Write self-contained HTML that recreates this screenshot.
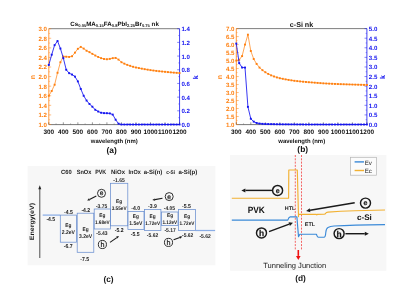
<!DOCTYPE html>
<html><head><meta charset="utf-8"><title>figure</title>
<style>html,body{margin:0;padding:0;background:#fff;}body{width:407px;height:288px;overflow:hidden;font-family:"Liberation Sans",sans-serif;}svg{display:block;will-change:transform;text-rendering:geometricPrecision;}</style>
</head><body>
<svg width="407" height="288" viewBox="0 0 407 288" font-family="'Liberation Sans', sans-serif">
<rect width="407" height="288" fill="#fff"/>
<line x1="48.8" y1="28.7" x2="179.55" y2="28.7" stroke="#707070" stroke-width="0.9"/>
<line x1="48.8" y1="124.6" x2="179.55" y2="124.6" stroke="#7a7a7a" stroke-width="1.0"/>
<line x1="48.8" y1="28.7" x2="48.8" y2="124.5" stroke="#ff7f0e" stroke-width="0.8"/>
<line x1="179.55" y1="28.7" x2="179.55" y2="124.5" stroke="#1414f0" stroke-width="0.8"/>
<line x1="48.80" y1="124.5" x2="48.80" y2="122.3" stroke="#333" stroke-width="0.5"/>
<text x="48.80" y="133.95" font-size="6.4" font-weight="bold" text-anchor="middle" fill="#111">300</text>
<line x1="63.33" y1="124.5" x2="63.33" y2="122.3" stroke="#333" stroke-width="0.5"/>
<text x="63.33" y="133.95" font-size="6.4" font-weight="bold" text-anchor="middle" fill="#111">400</text>
<line x1="77.86" y1="124.5" x2="77.86" y2="122.3" stroke="#333" stroke-width="0.5"/>
<text x="77.86" y="133.95" font-size="6.4" font-weight="bold" text-anchor="middle" fill="#111">500</text>
<line x1="92.38" y1="124.5" x2="92.38" y2="122.3" stroke="#333" stroke-width="0.5"/>
<text x="92.38" y="133.95" font-size="6.4" font-weight="bold" text-anchor="middle" fill="#111">600</text>
<line x1="106.91" y1="124.5" x2="106.91" y2="122.3" stroke="#333" stroke-width="0.5"/>
<text x="106.91" y="133.95" font-size="6.4" font-weight="bold" text-anchor="middle" fill="#111">700</text>
<line x1="121.44" y1="124.5" x2="121.44" y2="122.3" stroke="#333" stroke-width="0.5"/>
<text x="121.44" y="133.95" font-size="6.4" font-weight="bold" text-anchor="middle" fill="#111">800</text>
<line x1="135.97" y1="124.5" x2="135.97" y2="122.3" stroke="#333" stroke-width="0.5"/>
<text x="135.97" y="133.95" font-size="6.4" font-weight="bold" text-anchor="middle" fill="#111">900</text>
<line x1="150.49" y1="124.5" x2="150.49" y2="122.3" stroke="#333" stroke-width="0.5"/>
<text x="150.49" y="133.95" font-size="6.4" font-weight="bold" text-anchor="middle" fill="#111">1000</text>
<line x1="165.02" y1="124.5" x2="165.02" y2="122.3" stroke="#333" stroke-width="0.5"/>
<text x="165.02" y="133.95" font-size="6.4" font-weight="bold" text-anchor="middle" fill="#111">1100</text>
<line x1="179.55" y1="124.5" x2="179.55" y2="122.3" stroke="#333" stroke-width="0.5"/>
<text x="179.55" y="133.95" font-size="6.4" font-weight="bold" text-anchor="middle" fill="#111">1200</text>
<line x1="56.06" y1="124.5" x2="56.06" y2="123.3" stroke="#555" stroke-width="0.4"/>
<line x1="70.59" y1="124.5" x2="70.59" y2="123.3" stroke="#555" stroke-width="0.4"/>
<line x1="85.12" y1="124.5" x2="85.12" y2="123.3" stroke="#555" stroke-width="0.4"/>
<line x1="99.65" y1="124.5" x2="99.65" y2="123.3" stroke="#555" stroke-width="0.4"/>
<line x1="114.17" y1="124.5" x2="114.17" y2="123.3" stroke="#555" stroke-width="0.4"/>
<line x1="128.70" y1="124.5" x2="128.70" y2="123.3" stroke="#555" stroke-width="0.4"/>
<line x1="143.23" y1="124.5" x2="143.23" y2="123.3" stroke="#555" stroke-width="0.4"/>
<line x1="157.76" y1="124.5" x2="157.76" y2="123.3" stroke="#555" stroke-width="0.4"/>
<line x1="172.29" y1="124.5" x2="172.29" y2="123.3" stroke="#555" stroke-width="0.4"/>
<line x1="48.8" y1="124.50" x2="51.199999999999996" y2="124.50" stroke="#ff7f0e" stroke-width="0.5"/>
<text x="47.00" y="126.95" font-size="6.15" font-weight="bold" text-anchor="end" fill="#ff7f0e">1.0</text>
<line x1="48.8" y1="114.92" x2="51.199999999999996" y2="114.92" stroke="#ff7f0e" stroke-width="0.5"/>
<text x="47.00" y="117.37" font-size="6.15" font-weight="bold" text-anchor="end" fill="#ff7f0e">1.2</text>
<line x1="48.8" y1="105.34" x2="51.199999999999996" y2="105.34" stroke="#ff7f0e" stroke-width="0.5"/>
<text x="47.00" y="107.79" font-size="6.15" font-weight="bold" text-anchor="end" fill="#ff7f0e">1.4</text>
<line x1="48.8" y1="95.76" x2="51.199999999999996" y2="95.76" stroke="#ff7f0e" stroke-width="0.5"/>
<text x="47.00" y="98.21" font-size="6.15" font-weight="bold" text-anchor="end" fill="#ff7f0e">1.6</text>
<line x1="48.8" y1="86.18" x2="51.199999999999996" y2="86.18" stroke="#ff7f0e" stroke-width="0.5"/>
<text x="47.00" y="88.63" font-size="6.15" font-weight="bold" text-anchor="end" fill="#ff7f0e">1.8</text>
<line x1="48.8" y1="76.60" x2="51.199999999999996" y2="76.60" stroke="#ff7f0e" stroke-width="0.5"/>
<text x="47.00" y="79.05" font-size="6.15" font-weight="bold" text-anchor="end" fill="#ff7f0e">2.0</text>
<line x1="48.8" y1="67.02" x2="51.199999999999996" y2="67.02" stroke="#ff7f0e" stroke-width="0.5"/>
<text x="47.00" y="69.47" font-size="6.15" font-weight="bold" text-anchor="end" fill="#ff7f0e">2.2</text>
<line x1="48.8" y1="57.44" x2="51.199999999999996" y2="57.44" stroke="#ff7f0e" stroke-width="0.5"/>
<text x="47.00" y="59.89" font-size="6.15" font-weight="bold" text-anchor="end" fill="#ff7f0e">2.4</text>
<line x1="48.8" y1="47.86" x2="51.199999999999996" y2="47.86" stroke="#ff7f0e" stroke-width="0.5"/>
<text x="47.00" y="50.31" font-size="6.15" font-weight="bold" text-anchor="end" fill="#ff7f0e">2.6</text>
<line x1="48.8" y1="38.28" x2="51.199999999999996" y2="38.28" stroke="#ff7f0e" stroke-width="0.5"/>
<text x="47.00" y="40.73" font-size="6.15" font-weight="bold" text-anchor="end" fill="#ff7f0e">2.8</text>
<line x1="48.8" y1="28.70" x2="51.199999999999996" y2="28.70" stroke="#ff7f0e" stroke-width="0.5"/>
<text x="47.00" y="31.15" font-size="6.15" font-weight="bold" text-anchor="end" fill="#ff7f0e">3.0</text>
<line x1="179.55" y1="124.50" x2="177.15" y2="124.50" stroke="#1414f0" stroke-width="0.5"/>
<text x="181.45" y="126.95" font-size="6.15" font-weight="bold" text-anchor="start" fill="#1414f0">0.0</text>
<line x1="179.55" y1="110.81" x2="177.15" y2="110.81" stroke="#1414f0" stroke-width="0.5"/>
<text x="181.45" y="113.26" font-size="6.15" font-weight="bold" text-anchor="start" fill="#1414f0">0.2</text>
<line x1="179.55" y1="97.13" x2="177.15" y2="97.13" stroke="#1414f0" stroke-width="0.5"/>
<text x="181.45" y="99.58" font-size="6.15" font-weight="bold" text-anchor="start" fill="#1414f0">0.4</text>
<line x1="179.55" y1="83.44" x2="177.15" y2="83.44" stroke="#1414f0" stroke-width="0.5"/>
<text x="181.45" y="85.89" font-size="6.15" font-weight="bold" text-anchor="start" fill="#1414f0">0.6</text>
<line x1="179.55" y1="69.76" x2="177.15" y2="69.76" stroke="#1414f0" stroke-width="0.5"/>
<text x="181.45" y="72.21" font-size="6.15" font-weight="bold" text-anchor="start" fill="#1414f0">0.8</text>
<line x1="179.55" y1="56.07" x2="177.15" y2="56.07" stroke="#1414f0" stroke-width="0.5"/>
<text x="181.45" y="58.52" font-size="6.15" font-weight="bold" text-anchor="start" fill="#1414f0">1.0</text>
<line x1="179.55" y1="42.39" x2="177.15" y2="42.39" stroke="#1414f0" stroke-width="0.5"/>
<text x="181.45" y="44.84" font-size="6.15" font-weight="bold" text-anchor="start" fill="#1414f0">1.2</text>
<line x1="179.55" y1="28.70" x2="177.15" y2="28.70" stroke="#1414f0" stroke-width="0.5"/>
<text x="181.45" y="31.15" font-size="6.15" font-weight="bold" text-anchor="start" fill="#1414f0">1.4</text>
<line x1="48.8" y1="119.71" x2="50.099999999999994" y2="119.71" stroke="#ff7f0e" stroke-width="0.4"/>
<line x1="48.8" y1="110.13" x2="50.099999999999994" y2="110.13" stroke="#ff7f0e" stroke-width="0.4"/>
<line x1="48.8" y1="100.55" x2="50.099999999999994" y2="100.55" stroke="#ff7f0e" stroke-width="0.4"/>
<line x1="48.8" y1="90.97" x2="50.099999999999994" y2="90.97" stroke="#ff7f0e" stroke-width="0.4"/>
<line x1="48.8" y1="81.39" x2="50.099999999999994" y2="81.39" stroke="#ff7f0e" stroke-width="0.4"/>
<line x1="48.8" y1="71.81" x2="50.099999999999994" y2="71.81" stroke="#ff7f0e" stroke-width="0.4"/>
<line x1="48.8" y1="62.23" x2="50.099999999999994" y2="62.23" stroke="#ff7f0e" stroke-width="0.4"/>
<line x1="48.8" y1="52.65" x2="50.099999999999994" y2="52.65" stroke="#ff7f0e" stroke-width="0.4"/>
<line x1="48.8" y1="43.07" x2="50.099999999999994" y2="43.07" stroke="#ff7f0e" stroke-width="0.4"/>
<line x1="48.8" y1="33.49" x2="50.099999999999994" y2="33.49" stroke="#ff7f0e" stroke-width="0.4"/>
<line x1="179.55" y1="117.66" x2="178.25" y2="117.66" stroke="#1414f0" stroke-width="0.4"/>
<line x1="179.55" y1="103.97" x2="178.25" y2="103.97" stroke="#1414f0" stroke-width="0.4"/>
<line x1="179.55" y1="90.29" x2="178.25" y2="90.29" stroke="#1414f0" stroke-width="0.4"/>
<line x1="179.55" y1="76.60" x2="178.25" y2="76.60" stroke="#1414f0" stroke-width="0.4"/>
<line x1="179.55" y1="62.91" x2="178.25" y2="62.91" stroke="#1414f0" stroke-width="0.4"/>
<line x1="179.55" y1="49.23" x2="178.25" y2="49.23" stroke="#1414f0" stroke-width="0.4"/>
<line x1="179.55" y1="35.54" x2="178.25" y2="35.54" stroke="#1414f0" stroke-width="0.4"/>
<polyline points="48.80,95.76 51.71,90.97 54.61,84.74 57.52,72.77 60.42,62.23 63.33,56.48 66.23,56.72 69.14,56.96 72.04,56.24 74.95,52.65 77.86,48.82 80.76,46.90 83.67,48.58 86.57,50.73 89.48,52.17 92.38,53.85 95.29,55.52 98.19,56.96 101.10,58.16 104.01,58.97 106.91,59.26 109.82,58.88 112.72,58.16 115.63,57.92 118.53,59.60 121.44,62.23 124.34,63.67 127.25,64.86 130.16,65.82 133.06,66.78 135.97,67.50 138.87,68.07 141.78,68.65 144.68,69.18 147.59,69.65 150.49,70.13 153.40,70.52 156.31,70.90 159.21,71.24 162.12,71.52 165.02,71.81 167.93,72.10 170.83,72.38 173.74,72.63 176.64,72.84 179.55,73.06" fill="none" stroke="#ff7f0e" stroke-width="0.7" stroke-linejoin="round"/>
<rect x="47.85" y="94.81" width="1.9" height="1.9" fill="#ff7f0e"/>
<rect x="50.76" y="90.02" width="1.9" height="1.9" fill="#ff7f0e"/>
<rect x="53.66" y="83.79" width="1.9" height="1.9" fill="#ff7f0e"/>
<rect x="56.57" y="71.82" width="1.9" height="1.9" fill="#ff7f0e"/>
<rect x="59.47" y="61.28" width="1.9" height="1.9" fill="#ff7f0e"/>
<rect x="62.38" y="55.53" width="1.9" height="1.9" fill="#ff7f0e"/>
<rect x="65.28" y="55.77" width="1.9" height="1.9" fill="#ff7f0e"/>
<rect x="68.19" y="56.01" width="1.9" height="1.9" fill="#ff7f0e"/>
<rect x="71.09" y="55.29" width="1.9" height="1.9" fill="#ff7f0e"/>
<rect x="74.00" y="51.70" width="1.9" height="1.9" fill="#ff7f0e"/>
<rect x="76.91" y="47.87" width="1.9" height="1.9" fill="#ff7f0e"/>
<rect x="79.81" y="45.95" width="1.9" height="1.9" fill="#ff7f0e"/>
<rect x="82.72" y="47.63" width="1.9" height="1.9" fill="#ff7f0e"/>
<rect x="85.62" y="49.78" width="1.9" height="1.9" fill="#ff7f0e"/>
<rect x="88.53" y="51.22" width="1.9" height="1.9" fill="#ff7f0e"/>
<rect x="91.43" y="52.90" width="1.9" height="1.9" fill="#ff7f0e"/>
<rect x="94.34" y="54.57" width="1.9" height="1.9" fill="#ff7f0e"/>
<rect x="97.24" y="56.01" width="1.9" height="1.9" fill="#ff7f0e"/>
<rect x="100.15" y="57.21" width="1.9" height="1.9" fill="#ff7f0e"/>
<rect x="103.06" y="58.02" width="1.9" height="1.9" fill="#ff7f0e"/>
<rect x="105.96" y="58.31" width="1.9" height="1.9" fill="#ff7f0e"/>
<rect x="108.87" y="57.93" width="1.9" height="1.9" fill="#ff7f0e"/>
<rect x="111.77" y="57.21" width="1.9" height="1.9" fill="#ff7f0e"/>
<rect x="114.68" y="56.97" width="1.9" height="1.9" fill="#ff7f0e"/>
<rect x="117.58" y="58.65" width="1.9" height="1.9" fill="#ff7f0e"/>
<rect x="120.49" y="61.28" width="1.9" height="1.9" fill="#ff7f0e"/>
<rect x="123.39" y="62.72" width="1.9" height="1.9" fill="#ff7f0e"/>
<rect x="126.30" y="63.91" width="1.9" height="1.9" fill="#ff7f0e"/>
<rect x="129.21" y="64.87" width="1.9" height="1.9" fill="#ff7f0e"/>
<rect x="132.11" y="65.83" width="1.9" height="1.9" fill="#ff7f0e"/>
<rect x="135.02" y="66.55" width="1.9" height="1.9" fill="#ff7f0e"/>
<rect x="137.92" y="67.12" width="1.9" height="1.9" fill="#ff7f0e"/>
<rect x="140.83" y="67.70" width="1.9" height="1.9" fill="#ff7f0e"/>
<rect x="143.73" y="68.23" width="1.9" height="1.9" fill="#ff7f0e"/>
<rect x="146.64" y="68.70" width="1.9" height="1.9" fill="#ff7f0e"/>
<rect x="149.54" y="69.18" width="1.9" height="1.9" fill="#ff7f0e"/>
<rect x="152.45" y="69.57" width="1.9" height="1.9" fill="#ff7f0e"/>
<rect x="155.36" y="69.95" width="1.9" height="1.9" fill="#ff7f0e"/>
<rect x="158.26" y="70.29" width="1.9" height="1.9" fill="#ff7f0e"/>
<rect x="161.17" y="70.57" width="1.9" height="1.9" fill="#ff7f0e"/>
<rect x="164.07" y="70.86" width="1.9" height="1.9" fill="#ff7f0e"/>
<rect x="166.98" y="71.15" width="1.9" height="1.9" fill="#ff7f0e"/>
<rect x="169.88" y="71.43" width="1.9" height="1.9" fill="#ff7f0e"/>
<rect x="172.79" y="71.68" width="1.9" height="1.9" fill="#ff7f0e"/>
<rect x="175.69" y="71.89" width="1.9" height="1.9" fill="#ff7f0e"/>
<rect x="178.60" y="72.11" width="1.9" height="1.9" fill="#ff7f0e"/>
<polyline points="48.80,64.97 51.71,54.70 54.61,45.12 57.52,41.02 60.42,48.54 63.33,58.12 66.23,69.76 69.14,73.18 72.04,74.55 74.95,76.60 77.86,81.39 80.76,88.92 83.67,95.76 86.57,100.55 89.48,103.97 92.38,106.71 95.29,109.79 98.19,111.50 101.10,112.73 104.01,113.14 106.91,113.21 109.82,113.41 112.72,114.58 115.63,119.71 118.53,123.68 121.44,124.50 124.34,124.50 127.25,124.50 130.16,124.50 133.06,124.50 135.97,124.50 138.87,124.50 141.78,124.50 144.68,124.50 147.59,124.50 150.49,124.50 153.40,124.50 156.31,124.50 159.21,124.50 162.12,124.50 165.02,124.50 167.93,124.50 170.83,124.50 173.74,124.50 176.64,124.50 179.55,124.50" fill="none" stroke="#1414f0" stroke-width="0.85" stroke-linejoin="round"/>
<rect x="47.85" y="64.02" width="1.9" height="1.9" fill="#1414f0"/>
<rect x="50.76" y="53.75" width="1.9" height="1.9" fill="#1414f0"/>
<rect x="53.66" y="44.17" width="1.9" height="1.9" fill="#1414f0"/>
<rect x="56.57" y="40.07" width="1.9" height="1.9" fill="#1414f0"/>
<rect x="59.47" y="47.59" width="1.9" height="1.9" fill="#1414f0"/>
<rect x="62.38" y="57.17" width="1.9" height="1.9" fill="#1414f0"/>
<rect x="65.28" y="68.81" width="1.9" height="1.9" fill="#1414f0"/>
<rect x="68.19" y="72.23" width="1.9" height="1.9" fill="#1414f0"/>
<rect x="71.09" y="73.60" width="1.9" height="1.9" fill="#1414f0"/>
<rect x="74.00" y="75.65" width="1.9" height="1.9" fill="#1414f0"/>
<rect x="76.91" y="80.44" width="1.9" height="1.9" fill="#1414f0"/>
<rect x="79.81" y="87.97" width="1.9" height="1.9" fill="#1414f0"/>
<rect x="82.72" y="94.81" width="1.9" height="1.9" fill="#1414f0"/>
<rect x="85.62" y="99.60" width="1.9" height="1.9" fill="#1414f0"/>
<rect x="88.53" y="103.02" width="1.9" height="1.9" fill="#1414f0"/>
<rect x="91.43" y="105.76" width="1.9" height="1.9" fill="#1414f0"/>
<rect x="94.34" y="108.84" width="1.9" height="1.9" fill="#1414f0"/>
<rect x="97.24" y="110.55" width="1.9" height="1.9" fill="#1414f0"/>
<rect x="100.15" y="111.78" width="1.9" height="1.9" fill="#1414f0"/>
<rect x="103.06" y="112.19" width="1.9" height="1.9" fill="#1414f0"/>
<rect x="105.96" y="112.26" width="1.9" height="1.9" fill="#1414f0"/>
<rect x="108.87" y="112.46" width="1.9" height="1.9" fill="#1414f0"/>
<rect x="111.77" y="113.63" width="1.9" height="1.9" fill="#1414f0"/>
<rect x="114.68" y="118.76" width="1.9" height="1.9" fill="#1414f0"/>
<rect x="117.58" y="122.73" width="1.9" height="1.9" fill="#1414f0"/>
<rect x="120.49" y="123.55" width="1.9" height="1.9" fill="#1414f0"/>
<rect x="123.39" y="123.55" width="1.9" height="1.9" fill="#1414f0"/>
<rect x="126.30" y="123.55" width="1.9" height="1.9" fill="#1414f0"/>
<rect x="129.21" y="123.55" width="1.9" height="1.9" fill="#1414f0"/>
<rect x="132.11" y="123.55" width="1.9" height="1.9" fill="#1414f0"/>
<rect x="135.02" y="123.55" width="1.9" height="1.9" fill="#1414f0"/>
<rect x="137.92" y="123.55" width="1.9" height="1.9" fill="#1414f0"/>
<rect x="140.83" y="123.55" width="1.9" height="1.9" fill="#1414f0"/>
<rect x="143.73" y="123.55" width="1.9" height="1.9" fill="#1414f0"/>
<rect x="146.64" y="123.55" width="1.9" height="1.9" fill="#1414f0"/>
<rect x="149.54" y="123.55" width="1.9" height="1.9" fill="#1414f0"/>
<rect x="152.45" y="123.55" width="1.9" height="1.9" fill="#1414f0"/>
<rect x="155.36" y="123.55" width="1.9" height="1.9" fill="#1414f0"/>
<rect x="158.26" y="123.55" width="1.9" height="1.9" fill="#1414f0"/>
<rect x="161.17" y="123.55" width="1.9" height="1.9" fill="#1414f0"/>
<rect x="164.07" y="123.55" width="1.9" height="1.9" fill="#1414f0"/>
<rect x="166.98" y="123.55" width="1.9" height="1.9" fill="#1414f0"/>
<rect x="169.88" y="123.55" width="1.9" height="1.9" fill="#1414f0"/>
<rect x="172.79" y="123.55" width="1.9" height="1.9" fill="#1414f0"/>
<rect x="175.69" y="123.55" width="1.9" height="1.9" fill="#1414f0"/>
<rect x="178.60" y="123.55" width="1.9" height="1.9" fill="#1414f0"/>
<text x="114.28" y="142.80" font-size="5.95" font-weight="bold" text-anchor="middle" fill="#111">wavelength (nm)</text>
<text x="114.6" y="25.9" font-size="6.2" font-weight="bold" text-anchor="middle" fill="#111">Cs<tspan font-size="4.1" dy="1.5">0.05</tspan><tspan dy="-1.5">MA</tspan><tspan font-size="4.1" dy="1.5">0.15</tspan><tspan dy="-1.5">FA</tspan><tspan font-size="4.1" dy="1.5">0.8</tspan><tspan dy="-1.5">PbI</tspan><tspan font-size="4.1" dy="1.5">2.25</tspan><tspan dy="-1.5">Br</tspan><tspan font-size="4.1" dy="1.5">0.75</tspan><tspan dy="-1.5"> nk</tspan></text>
<text x="111.7" y="153.4" font-size="8.4" font-weight="bold" text-anchor="middle" fill="#111">(a)</text>
<text transform="translate(34.60,77.05) rotate(-90)" font-size="7.0" font-weight="bold" text-anchor="middle" fill="#ff7f0e">n</text>
<text transform="translate(197.85,77.20) rotate(-90)" font-size="7.0" font-weight="bold" text-anchor="middle" fill="#1414f0">k</text>
<line x1="236.3" y1="28.6" x2="366.9" y2="28.6" stroke="#707070" stroke-width="0.9"/>
<line x1="236.3" y1="124.6" x2="366.9" y2="124.6" stroke="#7a7a7a" stroke-width="1.0"/>
<line x1="236.3" y1="28.6" x2="236.3" y2="124.5" stroke="#ff7f0e" stroke-width="0.8"/>
<line x1="366.9" y1="28.6" x2="366.9" y2="124.5" stroke="#1414f0" stroke-width="0.8"/>
<line x1="236.30" y1="124.5" x2="236.30" y2="122.3" stroke="#333" stroke-width="0.5"/>
<text x="236.30" y="133.95" font-size="6.4" font-weight="bold" text-anchor="middle" fill="#111">300</text>
<line x1="250.81" y1="124.5" x2="250.81" y2="122.3" stroke="#333" stroke-width="0.5"/>
<text x="250.81" y="133.95" font-size="6.4" font-weight="bold" text-anchor="middle" fill="#111">400</text>
<line x1="265.32" y1="124.5" x2="265.32" y2="122.3" stroke="#333" stroke-width="0.5"/>
<text x="265.32" y="133.95" font-size="6.4" font-weight="bold" text-anchor="middle" fill="#111">500</text>
<line x1="279.83" y1="124.5" x2="279.83" y2="122.3" stroke="#333" stroke-width="0.5"/>
<text x="279.83" y="133.95" font-size="6.4" font-weight="bold" text-anchor="middle" fill="#111">600</text>
<line x1="294.34" y1="124.5" x2="294.34" y2="122.3" stroke="#333" stroke-width="0.5"/>
<text x="294.34" y="133.95" font-size="6.4" font-weight="bold" text-anchor="middle" fill="#111">700</text>
<line x1="308.86" y1="124.5" x2="308.86" y2="122.3" stroke="#333" stroke-width="0.5"/>
<text x="308.86" y="133.95" font-size="6.4" font-weight="bold" text-anchor="middle" fill="#111">800</text>
<line x1="323.37" y1="124.5" x2="323.37" y2="122.3" stroke="#333" stroke-width="0.5"/>
<text x="323.37" y="133.95" font-size="6.4" font-weight="bold" text-anchor="middle" fill="#111">900</text>
<line x1="337.88" y1="124.5" x2="337.88" y2="122.3" stroke="#333" stroke-width="0.5"/>
<text x="337.88" y="133.95" font-size="6.4" font-weight="bold" text-anchor="middle" fill="#111">1000</text>
<line x1="352.39" y1="124.5" x2="352.39" y2="122.3" stroke="#333" stroke-width="0.5"/>
<text x="352.39" y="133.95" font-size="6.4" font-weight="bold" text-anchor="middle" fill="#111">1100</text>
<line x1="366.90" y1="124.5" x2="366.90" y2="122.3" stroke="#333" stroke-width="0.5"/>
<text x="366.90" y="133.95" font-size="6.4" font-weight="bold" text-anchor="middle" fill="#111">1200</text>
<line x1="243.56" y1="124.5" x2="243.56" y2="123.3" stroke="#555" stroke-width="0.4"/>
<line x1="258.07" y1="124.5" x2="258.07" y2="123.3" stroke="#555" stroke-width="0.4"/>
<line x1="272.58" y1="124.5" x2="272.58" y2="123.3" stroke="#555" stroke-width="0.4"/>
<line x1="287.09" y1="124.5" x2="287.09" y2="123.3" stroke="#555" stroke-width="0.4"/>
<line x1="301.60" y1="124.5" x2="301.60" y2="123.3" stroke="#555" stroke-width="0.4"/>
<line x1="316.11" y1="124.5" x2="316.11" y2="123.3" stroke="#555" stroke-width="0.4"/>
<line x1="330.62" y1="124.5" x2="330.62" y2="123.3" stroke="#555" stroke-width="0.4"/>
<line x1="345.13" y1="124.5" x2="345.13" y2="123.3" stroke="#555" stroke-width="0.4"/>
<line x1="359.64" y1="124.5" x2="359.64" y2="123.3" stroke="#555" stroke-width="0.4"/>
<line x1="236.3" y1="124.50" x2="238.70000000000002" y2="124.50" stroke="#ff7f0e" stroke-width="0.5"/>
<text x="234.50" y="126.95" font-size="6.15" font-weight="bold" text-anchor="end" fill="#ff7f0e">1.0</text>
<line x1="236.3" y1="116.51" x2="238.70000000000002" y2="116.51" stroke="#ff7f0e" stroke-width="0.5"/>
<text x="234.50" y="118.96" font-size="6.15" font-weight="bold" text-anchor="end" fill="#ff7f0e">1.5</text>
<line x1="236.3" y1="108.52" x2="238.70000000000002" y2="108.52" stroke="#ff7f0e" stroke-width="0.5"/>
<text x="234.50" y="110.97" font-size="6.15" font-weight="bold" text-anchor="end" fill="#ff7f0e">2.0</text>
<line x1="236.3" y1="100.53" x2="238.70000000000002" y2="100.53" stroke="#ff7f0e" stroke-width="0.5"/>
<text x="234.50" y="102.98" font-size="6.15" font-weight="bold" text-anchor="end" fill="#ff7f0e">2.5</text>
<line x1="236.3" y1="92.53" x2="238.70000000000002" y2="92.53" stroke="#ff7f0e" stroke-width="0.5"/>
<text x="234.50" y="94.98" font-size="6.15" font-weight="bold" text-anchor="end" fill="#ff7f0e">3.0</text>
<line x1="236.3" y1="84.54" x2="238.70000000000002" y2="84.54" stroke="#ff7f0e" stroke-width="0.5"/>
<text x="234.50" y="86.99" font-size="6.15" font-weight="bold" text-anchor="end" fill="#ff7f0e">3.5</text>
<line x1="236.3" y1="76.55" x2="238.70000000000002" y2="76.55" stroke="#ff7f0e" stroke-width="0.5"/>
<text x="234.50" y="79.00" font-size="6.15" font-weight="bold" text-anchor="end" fill="#ff7f0e">4.0</text>
<line x1="236.3" y1="68.56" x2="238.70000000000002" y2="68.56" stroke="#ff7f0e" stroke-width="0.5"/>
<text x="234.50" y="71.01" font-size="6.15" font-weight="bold" text-anchor="end" fill="#ff7f0e">4.5</text>
<line x1="236.3" y1="60.57" x2="238.70000000000002" y2="60.57" stroke="#ff7f0e" stroke-width="0.5"/>
<text x="234.50" y="63.02" font-size="6.15" font-weight="bold" text-anchor="end" fill="#ff7f0e">5.0</text>
<line x1="236.3" y1="52.57" x2="238.70000000000002" y2="52.57" stroke="#ff7f0e" stroke-width="0.5"/>
<text x="234.50" y="55.02" font-size="6.15" font-weight="bold" text-anchor="end" fill="#ff7f0e">5.5</text>
<line x1="236.3" y1="44.58" x2="238.70000000000002" y2="44.58" stroke="#ff7f0e" stroke-width="0.5"/>
<text x="234.50" y="47.03" font-size="6.15" font-weight="bold" text-anchor="end" fill="#ff7f0e">6.0</text>
<line x1="236.3" y1="36.59" x2="238.70000000000002" y2="36.59" stroke="#ff7f0e" stroke-width="0.5"/>
<text x="234.50" y="39.04" font-size="6.15" font-weight="bold" text-anchor="end" fill="#ff7f0e">6.5</text>
<line x1="236.3" y1="28.60" x2="238.70000000000002" y2="28.60" stroke="#ff7f0e" stroke-width="0.5"/>
<text x="234.50" y="31.05" font-size="6.15" font-weight="bold" text-anchor="end" fill="#ff7f0e">7.0</text>
<line x1="366.9" y1="124.50" x2="364.5" y2="124.50" stroke="#1414f0" stroke-width="0.5"/>
<text x="368.80" y="126.95" font-size="6.15" font-weight="bold" text-anchor="start" fill="#1414f0">0.0</text>
<line x1="366.9" y1="114.91" x2="364.5" y2="114.91" stroke="#1414f0" stroke-width="0.5"/>
<text x="368.80" y="117.36" font-size="6.15" font-weight="bold" text-anchor="start" fill="#1414f0">0.5</text>
<line x1="366.9" y1="105.32" x2="364.5" y2="105.32" stroke="#1414f0" stroke-width="0.5"/>
<text x="368.80" y="107.77" font-size="6.15" font-weight="bold" text-anchor="start" fill="#1414f0">1.0</text>
<line x1="366.9" y1="95.73" x2="364.5" y2="95.73" stroke="#1414f0" stroke-width="0.5"/>
<text x="368.80" y="98.18" font-size="6.15" font-weight="bold" text-anchor="start" fill="#1414f0">1.5</text>
<line x1="366.9" y1="86.14" x2="364.5" y2="86.14" stroke="#1414f0" stroke-width="0.5"/>
<text x="368.80" y="88.59" font-size="6.15" font-weight="bold" text-anchor="start" fill="#1414f0">2.0</text>
<line x1="366.9" y1="76.55" x2="364.5" y2="76.55" stroke="#1414f0" stroke-width="0.5"/>
<text x="368.80" y="79.00" font-size="6.15" font-weight="bold" text-anchor="start" fill="#1414f0">2.5</text>
<line x1="366.9" y1="66.96" x2="364.5" y2="66.96" stroke="#1414f0" stroke-width="0.5"/>
<text x="368.80" y="69.41" font-size="6.15" font-weight="bold" text-anchor="start" fill="#1414f0">3.0</text>
<line x1="366.9" y1="57.37" x2="364.5" y2="57.37" stroke="#1414f0" stroke-width="0.5"/>
<text x="368.80" y="59.82" font-size="6.15" font-weight="bold" text-anchor="start" fill="#1414f0">3.5</text>
<line x1="366.9" y1="47.78" x2="364.5" y2="47.78" stroke="#1414f0" stroke-width="0.5"/>
<text x="368.80" y="50.23" font-size="6.15" font-weight="bold" text-anchor="start" fill="#1414f0">4.0</text>
<line x1="366.9" y1="38.19" x2="364.5" y2="38.19" stroke="#1414f0" stroke-width="0.5"/>
<text x="368.80" y="40.64" font-size="6.15" font-weight="bold" text-anchor="start" fill="#1414f0">4.5</text>
<line x1="366.9" y1="28.60" x2="364.5" y2="28.60" stroke="#1414f0" stroke-width="0.5"/>
<text x="368.80" y="31.05" font-size="6.15" font-weight="bold" text-anchor="start" fill="#1414f0">5.0</text>
<line x1="236.3" y1="120.50" x2="237.60000000000002" y2="120.50" stroke="#ff7f0e" stroke-width="0.4"/>
<line x1="236.3" y1="112.51" x2="237.60000000000002" y2="112.51" stroke="#ff7f0e" stroke-width="0.4"/>
<line x1="236.3" y1="104.52" x2="237.60000000000002" y2="104.52" stroke="#ff7f0e" stroke-width="0.4"/>
<line x1="236.3" y1="96.53" x2="237.60000000000002" y2="96.53" stroke="#ff7f0e" stroke-width="0.4"/>
<line x1="236.3" y1="88.54" x2="237.60000000000002" y2="88.54" stroke="#ff7f0e" stroke-width="0.4"/>
<line x1="236.3" y1="80.55" x2="237.60000000000002" y2="80.55" stroke="#ff7f0e" stroke-width="0.4"/>
<line x1="236.3" y1="72.55" x2="237.60000000000002" y2="72.55" stroke="#ff7f0e" stroke-width="0.4"/>
<line x1="236.3" y1="64.56" x2="237.60000000000002" y2="64.56" stroke="#ff7f0e" stroke-width="0.4"/>
<line x1="236.3" y1="56.57" x2="237.60000000000002" y2="56.57" stroke="#ff7f0e" stroke-width="0.4"/>
<line x1="236.3" y1="48.58" x2="237.60000000000002" y2="48.58" stroke="#ff7f0e" stroke-width="0.4"/>
<line x1="236.3" y1="40.59" x2="237.60000000000002" y2="40.59" stroke="#ff7f0e" stroke-width="0.4"/>
<line x1="236.3" y1="32.60" x2="237.60000000000002" y2="32.60" stroke="#ff7f0e" stroke-width="0.4"/>
<line x1="366.9" y1="119.70" x2="365.59999999999997" y2="119.70" stroke="#1414f0" stroke-width="0.4"/>
<line x1="366.9" y1="110.11" x2="365.59999999999997" y2="110.11" stroke="#1414f0" stroke-width="0.4"/>
<line x1="366.9" y1="100.53" x2="365.59999999999997" y2="100.53" stroke="#1414f0" stroke-width="0.4"/>
<line x1="366.9" y1="90.94" x2="365.59999999999997" y2="90.94" stroke="#1414f0" stroke-width="0.4"/>
<line x1="366.9" y1="81.34" x2="365.59999999999997" y2="81.34" stroke="#1414f0" stroke-width="0.4"/>
<line x1="366.9" y1="71.75" x2="365.59999999999997" y2="71.75" stroke="#1414f0" stroke-width="0.4"/>
<line x1="366.9" y1="62.16" x2="365.59999999999997" y2="62.16" stroke="#1414f0" stroke-width="0.4"/>
<line x1="366.9" y1="52.57" x2="365.59999999999997" y2="52.57" stroke="#1414f0" stroke-width="0.4"/>
<line x1="366.9" y1="42.98" x2="365.59999999999997" y2="42.98" stroke="#1414f0" stroke-width="0.4"/>
<line x1="366.9" y1="33.39" x2="365.59999999999997" y2="33.39" stroke="#1414f0" stroke-width="0.4"/>
<polyline points="236.30,60.57 239.20,59.77 242.10,56.09 245.01,44.58 247.91,34.67 250.81,50.98 253.71,58.97 256.62,63.92 259.52,67.60 262.42,70.16 265.32,72.23 268.22,73.91 271.13,75.35 274.03,76.47 276.93,77.43 279.83,78.23 282.74,78.80 285.64,79.38 288.54,79.89 291.44,80.34 294.34,80.79 297.25,81.11 300.15,81.42 303.05,81.71 305.95,81.97 308.86,82.22 311.76,82.45 314.66,82.67 317.56,82.90 320.46,83.12 323.37,83.34 326.27,83.49 329.17,83.63 332.07,83.77 334.98,83.92 337.88,84.06 340.78,84.16 343.68,84.25 346.58,84.35 349.49,84.45 352.39,84.54 355.29,84.62 358.19,84.70 361.10,84.78 364.00,84.86 366.90,84.94" fill="none" stroke="#ff7f0e" stroke-width="0.7" stroke-linejoin="round"/>
<rect x="235.35" y="59.62" width="1.9" height="1.9" fill="#ff7f0e"/>
<rect x="238.25" y="58.82" width="1.9" height="1.9" fill="#ff7f0e"/>
<rect x="241.15" y="55.14" width="1.9" height="1.9" fill="#ff7f0e"/>
<rect x="244.06" y="43.63" width="1.9" height="1.9" fill="#ff7f0e"/>
<rect x="246.96" y="33.72" width="1.9" height="1.9" fill="#ff7f0e"/>
<rect x="249.86" y="50.03" width="1.9" height="1.9" fill="#ff7f0e"/>
<rect x="252.76" y="58.02" width="1.9" height="1.9" fill="#ff7f0e"/>
<rect x="255.67" y="62.97" width="1.9" height="1.9" fill="#ff7f0e"/>
<rect x="258.57" y="66.65" width="1.9" height="1.9" fill="#ff7f0e"/>
<rect x="261.47" y="69.21" width="1.9" height="1.9" fill="#ff7f0e"/>
<rect x="264.37" y="71.28" width="1.9" height="1.9" fill="#ff7f0e"/>
<rect x="267.27" y="72.96" width="1.9" height="1.9" fill="#ff7f0e"/>
<rect x="270.18" y="74.40" width="1.9" height="1.9" fill="#ff7f0e"/>
<rect x="273.08" y="75.52" width="1.9" height="1.9" fill="#ff7f0e"/>
<rect x="275.98" y="76.48" width="1.9" height="1.9" fill="#ff7f0e"/>
<rect x="278.88" y="77.28" width="1.9" height="1.9" fill="#ff7f0e"/>
<rect x="281.79" y="77.85" width="1.9" height="1.9" fill="#ff7f0e"/>
<rect x="284.69" y="78.43" width="1.9" height="1.9" fill="#ff7f0e"/>
<rect x="287.59" y="78.94" width="1.9" height="1.9" fill="#ff7f0e"/>
<rect x="290.49" y="79.39" width="1.9" height="1.9" fill="#ff7f0e"/>
<rect x="293.39" y="79.84" width="1.9" height="1.9" fill="#ff7f0e"/>
<rect x="296.30" y="80.16" width="1.9" height="1.9" fill="#ff7f0e"/>
<rect x="299.20" y="80.47" width="1.9" height="1.9" fill="#ff7f0e"/>
<rect x="302.10" y="80.76" width="1.9" height="1.9" fill="#ff7f0e"/>
<rect x="305.00" y="81.02" width="1.9" height="1.9" fill="#ff7f0e"/>
<rect x="307.91" y="81.27" width="1.9" height="1.9" fill="#ff7f0e"/>
<rect x="310.81" y="81.50" width="1.9" height="1.9" fill="#ff7f0e"/>
<rect x="313.71" y="81.72" width="1.9" height="1.9" fill="#ff7f0e"/>
<rect x="316.61" y="81.95" width="1.9" height="1.9" fill="#ff7f0e"/>
<rect x="319.51" y="82.17" width="1.9" height="1.9" fill="#ff7f0e"/>
<rect x="322.42" y="82.39" width="1.9" height="1.9" fill="#ff7f0e"/>
<rect x="325.32" y="82.54" width="1.9" height="1.9" fill="#ff7f0e"/>
<rect x="328.22" y="82.68" width="1.9" height="1.9" fill="#ff7f0e"/>
<rect x="331.12" y="82.82" width="1.9" height="1.9" fill="#ff7f0e"/>
<rect x="334.03" y="82.97" width="1.9" height="1.9" fill="#ff7f0e"/>
<rect x="336.93" y="83.11" width="1.9" height="1.9" fill="#ff7f0e"/>
<rect x="339.83" y="83.21" width="1.9" height="1.9" fill="#ff7f0e"/>
<rect x="342.73" y="83.30" width="1.9" height="1.9" fill="#ff7f0e"/>
<rect x="345.63" y="83.40" width="1.9" height="1.9" fill="#ff7f0e"/>
<rect x="348.54" y="83.50" width="1.9" height="1.9" fill="#ff7f0e"/>
<rect x="351.44" y="83.59" width="1.9" height="1.9" fill="#ff7f0e"/>
<rect x="354.34" y="83.67" width="1.9" height="1.9" fill="#ff7f0e"/>
<rect x="357.24" y="83.75" width="1.9" height="1.9" fill="#ff7f0e"/>
<rect x="360.15" y="83.83" width="1.9" height="1.9" fill="#ff7f0e"/>
<rect x="363.05" y="83.91" width="1.9" height="1.9" fill="#ff7f0e"/>
<rect x="365.95" y="83.99" width="1.9" height="1.9" fill="#ff7f0e"/>
<polyline points="236.30,43.56 239.20,63.12 242.10,67.54 245.01,67.54 247.91,106.85 250.81,118.75 253.71,121.62 256.62,122.97 259.52,123.54 262.42,123.83 265.32,124.02 268.22,124.08 271.13,124.14 274.03,124.19 276.93,124.25 279.83,124.31 282.74,124.33 285.64,124.35 288.54,124.37 291.44,124.38 294.34,124.40 297.25,124.42 300.15,124.44 303.05,124.46 305.95,124.48 308.86,124.50 311.76,124.50 314.66,124.50 317.56,124.50 320.46,124.50 323.37,124.50 326.27,124.50 329.17,124.50 332.07,124.50 334.98,124.50 337.88,124.50 340.78,124.50 343.68,124.50 346.58,124.50 349.49,124.50 352.39,124.50 355.29,124.50 358.19,124.50 361.10,124.50 364.00,124.50 366.90,124.50" fill="none" stroke="#1414f0" stroke-width="0.85" stroke-linejoin="round"/>
<rect x="235.35" y="42.61" width="1.9" height="1.9" fill="#1414f0"/>
<rect x="238.25" y="62.17" width="1.9" height="1.9" fill="#1414f0"/>
<rect x="241.15" y="66.59" width="1.9" height="1.9" fill="#1414f0"/>
<rect x="244.06" y="66.59" width="1.9" height="1.9" fill="#1414f0"/>
<rect x="246.96" y="105.90" width="1.9" height="1.9" fill="#1414f0"/>
<rect x="249.86" y="117.80" width="1.9" height="1.9" fill="#1414f0"/>
<rect x="252.76" y="120.67" width="1.9" height="1.9" fill="#1414f0"/>
<rect x="255.67" y="122.02" width="1.9" height="1.9" fill="#1414f0"/>
<rect x="258.57" y="122.59" width="1.9" height="1.9" fill="#1414f0"/>
<rect x="261.47" y="122.88" width="1.9" height="1.9" fill="#1414f0"/>
<rect x="264.37" y="123.07" width="1.9" height="1.9" fill="#1414f0"/>
<rect x="267.27" y="123.13" width="1.9" height="1.9" fill="#1414f0"/>
<rect x="270.18" y="123.19" width="1.9" height="1.9" fill="#1414f0"/>
<rect x="273.08" y="123.24" width="1.9" height="1.9" fill="#1414f0"/>
<rect x="275.98" y="123.30" width="1.9" height="1.9" fill="#1414f0"/>
<rect x="278.88" y="123.36" width="1.9" height="1.9" fill="#1414f0"/>
<rect x="281.79" y="123.38" width="1.9" height="1.9" fill="#1414f0"/>
<rect x="284.69" y="123.40" width="1.9" height="1.9" fill="#1414f0"/>
<rect x="287.59" y="123.42" width="1.9" height="1.9" fill="#1414f0"/>
<rect x="290.49" y="123.43" width="1.9" height="1.9" fill="#1414f0"/>
<rect x="293.39" y="123.45" width="1.9" height="1.9" fill="#1414f0"/>
<rect x="296.30" y="123.47" width="1.9" height="1.9" fill="#1414f0"/>
<rect x="299.20" y="123.49" width="1.9" height="1.9" fill="#1414f0"/>
<rect x="302.10" y="123.51" width="1.9" height="1.9" fill="#1414f0"/>
<rect x="305.00" y="123.53" width="1.9" height="1.9" fill="#1414f0"/>
<rect x="307.91" y="123.55" width="1.9" height="1.9" fill="#1414f0"/>
<rect x="310.81" y="123.55" width="1.9" height="1.9" fill="#1414f0"/>
<rect x="313.71" y="123.55" width="1.9" height="1.9" fill="#1414f0"/>
<rect x="316.61" y="123.55" width="1.9" height="1.9" fill="#1414f0"/>
<rect x="319.51" y="123.55" width="1.9" height="1.9" fill="#1414f0"/>
<rect x="322.42" y="123.55" width="1.9" height="1.9" fill="#1414f0"/>
<rect x="325.32" y="123.55" width="1.9" height="1.9" fill="#1414f0"/>
<rect x="328.22" y="123.55" width="1.9" height="1.9" fill="#1414f0"/>
<rect x="331.12" y="123.55" width="1.9" height="1.9" fill="#1414f0"/>
<rect x="334.03" y="123.55" width="1.9" height="1.9" fill="#1414f0"/>
<rect x="336.93" y="123.55" width="1.9" height="1.9" fill="#1414f0"/>
<rect x="339.83" y="123.55" width="1.9" height="1.9" fill="#1414f0"/>
<rect x="342.73" y="123.55" width="1.9" height="1.9" fill="#1414f0"/>
<rect x="345.63" y="123.55" width="1.9" height="1.9" fill="#1414f0"/>
<rect x="348.54" y="123.55" width="1.9" height="1.9" fill="#1414f0"/>
<rect x="351.44" y="123.55" width="1.9" height="1.9" fill="#1414f0"/>
<rect x="354.34" y="123.55" width="1.9" height="1.9" fill="#1414f0"/>
<rect x="357.24" y="123.55" width="1.9" height="1.9" fill="#1414f0"/>
<rect x="360.15" y="123.55" width="1.9" height="1.9" fill="#1414f0"/>
<rect x="363.05" y="123.55" width="1.9" height="1.9" fill="#1414f0"/>
<rect x="365.95" y="123.55" width="1.9" height="1.9" fill="#1414f0"/>
<text x="301.70" y="142.80" font-size="5.95" font-weight="bold" text-anchor="middle" fill="#111">wavelength (nm)</text>
<text x="301.5" y="27.3" font-size="7.15" font-weight="bold" text-anchor="middle" fill="#111">c-Si nk</text>
<text x="302.7" y="152.0" font-size="8.4" font-weight="bold" text-anchor="middle" fill="#111">(b)</text>
<text transform="translate(222.10,77.00) rotate(-90)" font-size="7.0" font-weight="bold" text-anchor="middle" fill="#ff7f0e">n</text>
<text transform="translate(385.20,77.15) rotate(-90)" font-size="7.0" font-weight="bold" text-anchor="middle" fill="#1414f0">k</text>
<rect x="27.6" y="165.9" width="187.8" height="99.4" fill="#f7f7f7"/>
<text x="61.10" y="173.70" font-size="6.1" font-weight="bold" fill="#1a1a1a" textLength="10.6" lengthAdjust="spacingAndGlyphs">C60</text>
<text x="76.65" y="173.70" font-size="6.1" font-weight="bold" fill="#1a1a1a" textLength="14.7" lengthAdjust="spacingAndGlyphs">SnOx</text>
<text x="95.15" y="173.70" font-size="6.1" font-weight="bold" fill="#1a1a1a" textLength="11.1" lengthAdjust="spacingAndGlyphs">PVK</text>
<text x="111.05" y="173.70" font-size="6.1" font-weight="bold" fill="#1a1a1a" textLength="13.9" lengthAdjust="spacingAndGlyphs">NiOx</text>
<text x="128.60" y="173.70" font-size="6.1" font-weight="bold" fill="#1a1a1a" textLength="12.2" lengthAdjust="spacingAndGlyphs">InOx</text>
<text x="143.70" y="173.70" font-size="6.1" font-weight="bold" fill="#1a1a1a" textLength="18.6" lengthAdjust="spacingAndGlyphs">a-Si(n)</text>
<text x="166.30" y="174.44" font-size="5.4" font-weight="bold" fill="#1a1a1a" textLength="8.8" lengthAdjust="spacingAndGlyphs">c-Si</text>
<text x="178.50" y="173.70" font-size="6.1" font-weight="bold" fill="#1a1a1a" textLength="18.8" lengthAdjust="spacingAndGlyphs">a-Si(p)</text>
<line x1="39.8" y1="258" x2="39.8" y2="188" stroke="#222" stroke-width="0.8"/>
<path d="M39.8 185.2 L38.3 189.2 L41.3 189.2 Z" fill="#222"/>
<text transform="translate(34.3,221.6) rotate(-90) scale(1.12,1)" font-size="6.3" font-weight="bold" text-anchor="middle" fill="#1a1a1a">Energy(eV)</text>
<line x1="42.7" y1="215.1" x2="60" y2="215.1" stroke="#8aadE6" stroke-width="1.25"/>
<line x1="195.4" y1="230.5" x2="215.1" y2="230.5" stroke="#8aadE6" stroke-width="1.25"/>
<text transform="translate(50.8,221.25) scale(0.9,1)" font-size="5.7" font-weight="bold" text-anchor="middle" fill="#1a1a1a">-4.5</text>
<text transform="translate(205.1,238.08) scale(0.9,1)" font-size="5.5" font-weight="bold" text-anchor="middle" fill="#1a1a1a">-5.62</text>
<rect x="60.3" y="215.1" width="16.30" height="27.10" fill="none" stroke="#6a8fd0" stroke-width="0.75"/>
<text transform="translate(68.4,214.45) scale(0.9,1)" font-size="5.7" font-weight="bold" text-anchor="middle" fill="#1a1a1a">-4.5</text>
<text transform="translate(68.2,248.25) scale(0.9,1)" font-size="5.7" font-weight="bold" text-anchor="middle" fill="#1a1a1a">-6.7</text>
<text transform="translate(68.3,226.71) scale(0.9,1)" font-size="5.3" font-weight="bold" text-anchor="middle" fill="#1a1a1a">Eg</text>
<text transform="translate(68.4,234.32) scale(0.9,1)" font-size="5.6" font-weight="bold" text-anchor="middle" fill="#1a1a1a">2.2eV</text>
<rect x="77.2" y="213.2" width="16.60" height="39.10" fill="none" stroke="#6a8fd0" stroke-width="0.75"/>
<text transform="translate(85.8,212.25) scale(0.9,1)" font-size="5.7" font-weight="bold" text-anchor="middle" fill="#1a1a1a">-4.2</text>
<text transform="translate(84.7,261.15) scale(0.9,1)" font-size="5.7" font-weight="bold" text-anchor="middle" fill="#1a1a1a">-7.5</text>
<text transform="translate(85.6,230.51) scale(0.9,1)" font-size="5.3" font-weight="bold" text-anchor="middle" fill="#1a1a1a">Eg</text>
<text transform="translate(85.6,238.12) scale(0.9,1)" font-size="5.6" font-weight="bold" text-anchor="middle" fill="#1a1a1a">3.2eV</text>
<rect x="94.2" y="209.0" width="16.20" height="20.00" fill="none" stroke="#6a8fd0" stroke-width="0.75"/>
<text transform="translate(101.6,208.28) scale(0.9,1)" font-size="5.5" font-weight="bold" text-anchor="middle" fill="#1a1a1a">-3.75</text>
<text transform="translate(101.9,235.18) scale(0.9,1)" font-size="5.5" font-weight="bold" text-anchor="middle" fill="#1a1a1a">-5.43</text>
<text transform="translate(102.3,217.21) scale(0.9,1)" font-size="5.3" font-weight="bold" text-anchor="middle" fill="#1a1a1a">Eg</text>
<text transform="translate(102.3,223.97) scale(0.9,1)" font-size="5.2" font-weight="bold" text-anchor="middle" fill="#1a1a1a">1.68eV</text>
<rect x="110.4" y="183.3" width="17.40" height="42.50" fill="none" stroke="#6a8fd0" stroke-width="0.75"/>
<text transform="translate(119.0,181.68) scale(0.9,1)" font-size="5.5" font-weight="bold" text-anchor="middle" fill="#1a1a1a">-1.65</text>
<text transform="translate(119.2,232.05) scale(0.9,1)" font-size="5.7" font-weight="bold" text-anchor="middle" fill="#1a1a1a">-5.2</text>
<text transform="translate(119.1,203.11) scale(0.9,1)" font-size="5.3" font-weight="bold" text-anchor="middle" fill="#1a1a1a">Eg</text>
<text transform="translate(119.1,210.27) scale(0.9,1)" font-size="5.2" font-weight="bold" text-anchor="middle" fill="#1a1a1a">3.55eV</text>
<rect x="127.9" y="211.4" width="16.10" height="18.10" fill="none" stroke="#6a8fd0" stroke-width="0.75"/>
<text transform="translate(135.6,209.95) scale(0.9,1)" font-size="5.7" font-weight="bold" text-anchor="middle" fill="#1a1a1a">-4.0</text>
<text transform="translate(135.2,236.35) scale(0.9,1)" font-size="5.7" font-weight="bold" text-anchor="middle" fill="#1a1a1a">-5.5</text>
<text transform="translate(135.8,218.41) scale(0.9,1)" font-size="5.3" font-weight="bold" text-anchor="middle" fill="#1a1a1a">Eg</text>
<text transform="translate(135.8,225.42) scale(0.9,1)" font-size="5.6" font-weight="bold" text-anchor="middle" fill="#1a1a1a">1.5eV</text>
<rect x="144.4" y="209.6" width="16.50" height="20.80" fill="none" stroke="#6a8fd0" stroke-width="0.75"/>
<text transform="translate(152.5,207.75) scale(0.9,1)" font-size="5.7" font-weight="bold" text-anchor="middle" fill="#1a1a1a">-3.9</text>
<text transform="translate(152.5,236.98) scale(0.9,1)" font-size="5.5" font-weight="bold" text-anchor="middle" fill="#1a1a1a">-5.62</text>
<text transform="translate(152.6,218.41) scale(0.9,1)" font-size="5.3" font-weight="bold" text-anchor="middle" fill="#1a1a1a">Eg</text>
<text transform="translate(152.6,225.27) scale(0.9,1)" font-size="5.2" font-weight="bold" text-anchor="middle" fill="#1a1a1a">1.72eV</text>
<rect x="161.4" y="212.0" width="16.60" height="13.40" fill="none" stroke="#6a8fd0" stroke-width="0.75"/>
<text transform="translate(169.4,210.28) scale(0.9,1)" font-size="5.5" font-weight="bold" text-anchor="middle" fill="#1a1a1a">-4.05</text>
<text transform="translate(170.1,231.78) scale(0.9,1)" font-size="5.5" font-weight="bold" text-anchor="middle" fill="#1a1a1a">-5.17</text>
<text transform="translate(170.1,217.21) scale(0.9,1)" font-size="5.3" font-weight="bold" text-anchor="middle" fill="#1a1a1a">Eg</text>
<text transform="translate(169.8,223.57) scale(0.9,1)" font-size="5.2" font-weight="bold" text-anchor="middle" fill="#1a1a1a">1.12eV</text>
<rect x="178.5" y="209.6" width="17.00" height="20.80" fill="none" stroke="#6a8fd0" stroke-width="0.75"/>
<text transform="translate(186.4,208.25) scale(0.9,1)" font-size="5.7" font-weight="bold" text-anchor="middle" fill="#1a1a1a">-5.5</text>
<text transform="translate(187.7,236.98) scale(0.9,1)" font-size="5.5" font-weight="bold" text-anchor="middle" fill="#1a1a1a">-5.62</text>
<text transform="translate(187.0,218.41) scale(0.9,1)" font-size="5.3" font-weight="bold" text-anchor="middle" fill="#1a1a1a">Eg</text>
<text transform="translate(187.0,225.27) scale(0.9,1)" font-size="5.2" font-weight="bold" text-anchor="middle" fill="#1a1a1a">1.72eV</text>
<circle cx="101.5" cy="193.3" r="4.0" fill="none" stroke="#1a1a1a" stroke-width="0.9"/>
<text x="101.5" y="195.20" font-size="6.6" font-weight="normal" text-anchor="middle" fill="#1a1a1a" stroke="#1a1a1a" stroke-width="0.2">e</text>
<line x1="96.30" y1="196.00" x2="89.52" y2="199.43" stroke="#1a1a1a" stroke-width="1.1"/>
<path d="M87.20 200.60 L88.96 198.31 L90.08 200.54 Z" fill="#1a1a1a"/>
<circle cx="169.2" cy="196.6" r="4.0" fill="none" stroke="#1a1a1a" stroke-width="0.9"/>
<text x="169.2" y="198.50" font-size="6.6" font-weight="normal" text-anchor="middle" fill="#1a1a1a" stroke="#1a1a1a" stroke-width="0.2">e</text>
<line x1="162.50" y1="198.20" x2="154.86" y2="199.62" stroke="#1a1a1a" stroke-width="1.1"/>
<path d="M152.30 200.10 L154.63 198.40 L155.08 200.85 Z" fill="#1a1a1a"/>
<circle cx="102.4" cy="244.5" r="4.05" fill="none" stroke="#1a1a1a" stroke-width="0.9"/>
<text x="102.4" y="247.00" font-size="7.2" font-weight="normal" text-anchor="middle" fill="#1a1a1a" stroke="#1a1a1a" stroke-width="0.2">h</text>
<line x1="110.00" y1="242.40" x2="116.87" y2="237.59" stroke="#1a1a1a" stroke-width="1.1"/>
<path d="M119.00 236.10 L117.59 238.62 L116.15 236.57 Z" fill="#1a1a1a"/>
<circle cx="168.5" cy="242.4" r="4.05" fill="none" stroke="#1a1a1a" stroke-width="0.9"/>
<text x="168.5" y="244.90" font-size="7.2" font-weight="normal" text-anchor="middle" fill="#1a1a1a" stroke="#1a1a1a" stroke-width="0.2">h</text>
<line x1="173.60" y1="239.80" x2="179.86" y2="237.50" stroke="#1a1a1a" stroke-width="1.1"/>
<path d="M182.30 236.60 L180.29 238.67 L179.43 236.32 Z" fill="#1a1a1a"/>
<text x="108.5" y="281.8" font-size="8.4" font-weight="bold" text-anchor="middle" fill="#1a1a1a">(c)</text>
<rect x="230.1" y="155" width="156.3" height="115.8" fill="#f7f7f7"/>
<line x1="295.3" y1="155" x2="295.3" y2="249.5" stroke="#f23434" stroke-width="0.75" stroke-dasharray="2.0,1.3"/>
<line x1="301.5" y1="155" x2="301.5" y2="249.5" stroke="#f23434" stroke-width="0.75" stroke-dasharray="2.0,1.3"/>
<path d="M231.8 220.1 L287.8 220.1 Q288.8 217.0 290.2 216.9 L296.9 216.9 L298.5 236.6 L299.9 234.2 L316.4 234.2 Q317.2 237.2 318.4 237.2 L324.0 237.2 Q325.5 237.2 325.8 232.5 Q326.1 228.4 328 227.5 Q330.2 226.4 334 226.05 Q352 225.1 385 224.6" fill="none" stroke="#3b8ad8" stroke-width="1.15" stroke-linejoin="round"/>
<path d="M231.8 198.2 L288.6 198.2 L288.8 170.0 L297.3 170.0 L298.5 216.6 L298.6 214.4 L316.4 214.4 L316.8 215.0 L317.3 214.4 L324.0 214.3 Q325.3 214.2 325.7 213.2 Q326.2 212.3 328 212.1 Q340 211.2 355 210.8 L385 210.0" fill="none" stroke="#f2b132" stroke-width="1.15" stroke-linejoin="round"/>
<line x1="298.30" y1="250.00" x2="298.30" y2="255.90" stroke="#ee1111" stroke-width="1.6"/>
<path d="M298.30 260.10 L296.00 255.90 L300.60 255.90 Z" fill="#ee1111"/>
<text x="294.7" y="267.7" font-size="7.55" font-weight="normal" text-anchor="middle" fill="#222">Tunneling Junction</text>
<text x="300.5" y="280.6" font-size="8.4" font-weight="bold" text-anchor="middle" fill="#1a1a1a">(d)</text>
<text transform="translate(256.3,212.54) scale(0.925,1)" font-size="9.0" font-weight="bold" text-anchor="middle" fill="#111">PVK</text>
<text x="364.4" y="219.92" font-size="8.1" font-weight="bold" text-anchor="middle" fill="#111">c-Si</text>
<text x="290.1" y="209.54" font-size="5.4" font-weight="bold" text-anchor="middle" fill="#222">HTL</text>
<text x="309.9" y="225.74" font-size="5.4" font-weight="bold" text-anchor="middle" fill="#222">ETL</text>
<rect x="350.5" y="157.3" width="25.9" height="17.9" fill="#fbfbfb" stroke="#b4b4b4" stroke-width="0.7"/>
<line x1="354.6" y1="161.9" x2="364" y2="161.9" stroke="#3b8ad8" stroke-width="1.4"/>
<line x1="354.6" y1="170.5" x2="364" y2="170.5" stroke="#f2b132" stroke-width="1.4"/>
<text x="364.7" y="164.5" font-size="6.1" font-weight="normal" text-anchor="start" fill="#222">Ev</text>
<text x="364.7" y="173.3" font-size="6.1" font-weight="normal" text-anchor="start" fill="#222">Ec</text>
<circle cx="277.6" cy="190.4" r="5.0" fill="none" stroke="#1a1a1a" stroke-width="1.45"/>
<text x="277.6" y="192.71" font-size="7.0" font-weight="bold" text-anchor="middle" fill="#1a1a1a" stroke="#1a1a1a" stroke-width="0.25">e</text>
<line x1="272.20" y1="190.40" x2="245.40" y2="190.40" stroke="#1a1a1a" stroke-width="1.45"/>
<path d="M241.40 190.40 L245.40 188.40 L245.40 192.40 Z" fill="#1a1a1a"/>
<circle cx="365.5" cy="203.1" r="5.0" fill="none" stroke="#1a1a1a" stroke-width="1.45"/>
<text x="365.5" y="205.41" font-size="7.0" font-weight="bold" text-anchor="middle" fill="#1a1a1a" stroke="#1a1a1a" stroke-width="0.25">e</text>
<line x1="354.70" y1="202.80" x2="310.05" y2="210.24" stroke="#1a1a1a" stroke-width="1.45"/>
<path d="M306.10 210.90 L309.72 208.27 L310.37 212.22 Z" fill="#1a1a1a"/>
<circle cx="261.5" cy="232.9" r="5.0" fill="none" stroke="#1a1a1a" stroke-width="1.45"/>
<text x="261.5" y="235.80" font-size="8.4" font-weight="bold" text-anchor="middle" fill="#1a1a1a" stroke="#1a1a1a" stroke-width="0.25">h</text>
<line x1="269.00" y1="231.60" x2="289.24" y2="224.18" stroke="#1a1a1a" stroke-width="1.45"/>
<path d="M293.00 222.80 L289.93 226.05 L288.56 222.30 Z" fill="#1a1a1a"/>
<circle cx="339.1" cy="233.6" r="5.0" fill="none" stroke="#1a1a1a" stroke-width="1.45"/>
<text x="339.1" y="236.50" font-size="8.4" font-weight="bold" text-anchor="middle" fill="#1a1a1a" stroke="#1a1a1a" stroke-width="0.25">h</text>
<line x1="345.40" y1="233.70" x2="364.80" y2="233.70" stroke="#1a1a1a" stroke-width="1.45"/>
<path d="M368.80 233.70 L364.80 235.70 L364.80 231.70 Z" fill="#1a1a1a"/>
</svg>
</body></html>
